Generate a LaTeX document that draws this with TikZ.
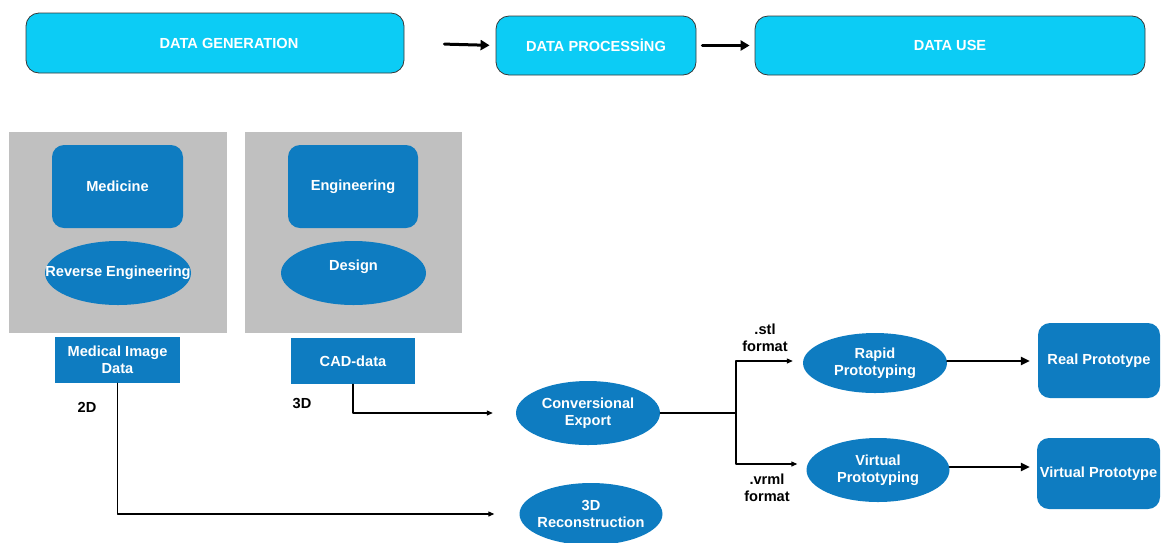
\documentclass[tikz,border=0pt]{standalone}
\usepackage{fontspec}
\setmainfont{Liberation Sans}
\usetikzlibrary{arrows.meta,calc,positioning,shapes.geometric}
\definecolor{fg}{RGB}{0,0,0}
\definecolor{cyanbox}{RGB}{12,204,245}
\definecolor{bluebox}{RGB}{14,124,193}
\definecolor{panelgray}{RGB}{192,192,192}
\definecolor{edge}{RGB}{55,55,55}
\tikzset{
  every picture/.style={fg, line cap=round, line join=round,
    >={Triangle[length=6pt,width=5pt]}},
  every node/.style={font=\bfseries\fontsize{14.6}{17}\selectfont, inner sep=0pt},
  % Phasen oben
  phase/.style={draw=edge, line width=0.8pt, fill=cyanbox, text=white, rounded corners=13pt},
  % Felder
  panel/.style={fill=panelgray},
  rbox/.style={fill=bluebox, text=white, rounded corners=12pt, align=center},
  sbox/.style={fill=bluebox, text=white, align=center},
  % Ellipsen: Groesse nur ueber minimum width/height, Text darf ueberstehen
  oval/.style={ellipse, fill=bluebox, text=white, align=center, inner xsep=-22pt},
  % Verbindungen
  conn/.style={line width=1.2pt, ->},
  bold/.style={line width=3pt, -{Triangle[length=9pt,width=10pt]}},
  mid/.style={line width=2.2pt, -{Triangle[length=9pt,width=8pt]}},
  lbl/.style={align=center, text=fg},
}
\begin{document}
\begin{tikzpicture}[x=1pt,y=-1pt]
  \useasboundingbox (0,0) rectangle (1161,542);
  % Phasen
  \node[phase, minimum width=378pt, minimum height=60pt] (gen) at (215,43) {\hspace*{28pt}DATA GENERATION};
  \node[phase, minimum width=200pt, minimum height=59pt] (proc) at (596,45.5) {DATA PROCESS\.{I}NG};
  \node[phase, minimum width=390pt, minimum height=59pt] (use) at (950,45.5) {DATA USE};
  \draw[bold, shorten <=40pt, shorten >=6pt] (gen.east) -- (proc.west);
  \draw[bold, shorten <=6pt, shorten >=5pt] (proc.east) -- (use.west);
  % graue Felder mit Inhalt
  \node[panel, minimum width=218pt, minimum height=201pt] (pmed) at (118,232.5) {};
  \node[panel, minimum width=217pt, minimum height=201pt] (peng) at (353.5,232.5) {};
  \node[rbox, minimum width=131pt, minimum height=83pt] (med) at (117.5,186.5) {Medicine};
  \node[rbox, minimum width=130pt, minimum height=83pt] (eng) at (353,186.5) {Engineering};
  \node[oval, minimum width=146pt, minimum height=64pt] (rev) at (118,273) {Reverse Engineering};
  \node[oval, minimum width=145pt, minimum height=64pt] (des) at (353.5,273) {Design\\[-1pt]};
  % Daten
  \node[sbox, minimum width=125pt, minimum height=46pt] (mid) at (117.5,360) {Medical Image\\Data};
  \node[sbox, minimum width=124pt, minimum height=46pt] (cad) at (353,361) {CAD-data};
  \node[lbl] (l2d) at (87,407) {2D};
  \node[lbl] (l3d) at (302,403) {3D};
  % Verarbeitung
  \node[oval, minimum width=144pt, minimum height=64pt] (conv) at (588,413) {Conversional\\Export};
  \node[oval, minimum width=143pt, minimum height=62pt] (rec) at (591,514) {3D\\Reconstruction};
  \coordinate (split) at (736,413);
  \node[oval, minimum width=144pt, minimum height=60pt] (rapid) at (875,363) {Rapid\\Prototyping};
  \node[oval, minimum width=143pt, minimum height=64pt] (virt) at (878,470) {Virtual\\Prototyping};
  \node[rbox, minimum width=122pt, minimum height=75pt] (real) at (1099,360.5) {Real Prototype};
  \node[rbox, minimum width=123pt, minimum height=71pt] (vpro) at (1098.5,473.5) {Virtual Prototype};
  \node[lbl] (lstl) at (765,338) {.stl\\format};
  \node[lbl] (lvrml) at (767,488) {.vrml\\format};
  % Pfeile
  \draw[conn, shorten >=25pt] (mid.south) |- (rec.west);
  \draw[conn, shorten >=23pt] (cad.south) |- (conv.west);
  \draw[line width=1.2pt] (conv.east) -- (split);
  \draw[conn, shorten >=10pt] (split) |- ([yshift=2pt]rapid.west);
  \draw[conn, shorten >=9pt] (split) |- ([yshift=6pt]virt.west);
  \draw[mid, shorten >=8pt] ([yshift=2pt]rapid.east) -- ([yshift=-0.5pt]real.west);
  \draw[mid, shorten >=7pt] ([yshift=3pt]virt.east) -- ([yshift=6.5pt]vpro.west);
\end{tikzpicture}
\end{document}
